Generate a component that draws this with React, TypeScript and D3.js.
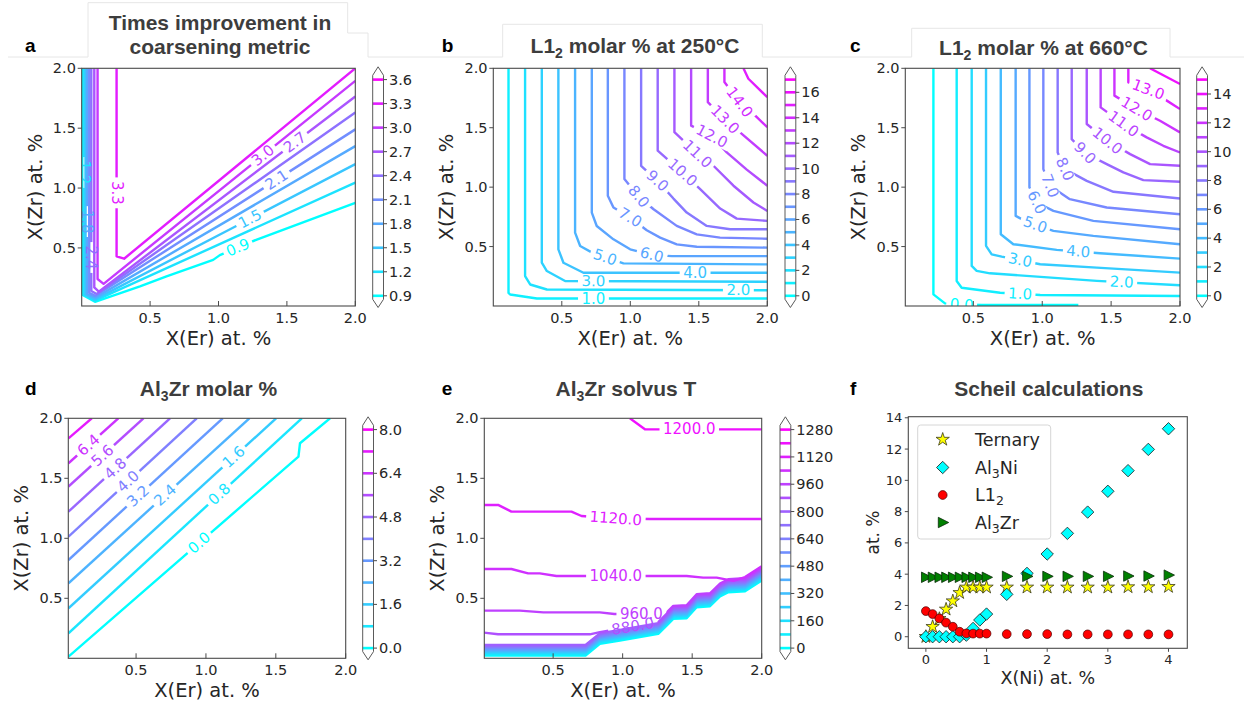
import React from "react";
import * as d3 from "d3";

type Pt = [number, number];
type Contour = [number, Pt[]];
type Label = [number, number, number];

const axisTicks = [0.5, 1.0, 1.5, 2.0];

// ---------------- panel a : times improvement ----------------
const aLevels = [0.9, 1.2, 1.5, 1.8, 2.1, 2.4, 2.7, 3.0, 3.3, 3.6];
const aBarTicks = [0.9, 1.2, 1.5, 1.8, 2.1, 2.4, 2.7, 3.0, 3.3, 3.6];
const aContours: Contour[] = [
  [0.9, [[0.004, 2.0], [0.004, 0.11], [0.097, 0.05], [0.426, 0.179], [0.62, 0.263], [0.961, 0.4], [1.01, 0.44], [1.28, 0.57], [2.0, 0.877]]],
  [1.2, [[0.015, 2.0], [0.015, 0.11], [0.097, 0.06], [2.0, 1.045]]],
  [1.5, [[0.028, 2.0], [0.028, 0.11], [0.098, 0.07], [2.0, 1.2]]],
  [1.8, [[0.04, 2.0], [0.04, 0.115], [0.1, 0.085], [2.0, 1.35]]],
  [2.1, [[0.055, 2.0], [0.055, 0.125], [0.1, 0.1], [2.0, 1.49]]],
  [2.4, [[0.07, 2.0], [0.07, 0.14], [0.11, 0.115], [2.0, 1.63]]],
  [2.7, [[0.092, 2.0], [0.092, 0.17], [0.125, 0.135], [2.0, 1.765]]],
  [3.0, [[0.116, 2.0], [0.116, 0.24], [0.16, 0.2], [2.0, 1.895]]],
  [3.3, [[0.255, 2.0], [0.255, 0.43], [0.31, 0.41], [2.0, 2.0]]],
];
const aLabels: Label[] = [
  [3.3, 0.27, 0.96], [3.0, 1.327, 1.27], [2.7, 1.546, 1.4], [2.1, 1.424, 1.07],
  [1.5, 1.23, 0.745], [0.9, 1.143, 0.5], [1.2, 0.015, 1.13], [1.8, 0.04, 0.72], [2.4, 0.07, 0.42],
];

// ---------------- panel b : L12 at 250C ----------------
const bLevels = [0, 1, 2, 3, 4, 5, 6, 7, 8, 9, 10, 11, 12, 13, 14, 15, 16, 17];
const bBarTicks = [0, 2, 4, 6, 8, 10, 12, 14, 16];
const bContours: Contour[] = [
  [1, [[0.111, 2], [0.111, 0.111], [0.123, 0.097], [0.318, 0.063], [2, 0.063]]],
  [2, [[0.232, 2], [0.232, 0.252], [0.269, 0.181], [0.391, 0.139], [2, 0.133]]],
  [3, [[0.354, 2], [0.354, 0.364], [0.391, 0.294], [0.524, 0.21], [2, 0.204]]],
  [4, [[0.475, 2], [0.475, 0.477], [0.512, 0.364], [0.658, 0.28], [2, 0.28]]],
  [5, [[0.597, 2], [0.597, 0.617], [0.634, 0.505], [0.731, 0.443], [0.95, 0.359], [2, 0.35]]],
  [6, [[0.719, 2], [0.719, 0.786], [0.755, 0.673], [0.877, 0.561], [0.999, 0.477], [1.157, 0.43], [1.303, 0.42], [2, 0.42]]],
  [7, [[0.836, 2], [0.836, 0.927], [0.877, 0.828], [0.999, 0.744], [1.12, 0.637], [1.218, 0.575], [1.339, 0.519], [1.485, 0.499], [2, 0.491]]],
  [8, [[0.957, 2], [0.957, 1.068], [1.06, 0.921], [1.17, 0.814], [1.339, 0.674], [1.485, 0.603], [1.655, 0.575], [2, 0.566]]],
  [9, [[1.079, 2], [1.079, 1.18], [1.198, 1.053], [1.315, 0.904], [1.412, 0.786], [1.558, 0.674], [1.729, 0.646], [2, 0.646]]],
  [10, [[1.2, 2], [1.2, 1.307], [1.381, 1.123], [1.51, 0.983], [1.656, 0.82], [1.777, 0.735], [2, 0.716]]],
  [11, [[1.322, 2], [1.322, 1.462], [1.49, 1.279], [1.607, 1.18], [1.753, 1.012], [1.899, 0.871], [2, 0.8]]],
  [12, [[1.444, 2], [1.444, 1.518], [1.595, 1.428], [1.704, 1.293], [1.85, 1.147], [2, 1.012]]],
  [13, [[1.566, 2], [1.566, 1.715], [1.692, 1.568], [1.801, 1.461], [2, 1.264]]],
  [14, [[1.687, 2], [1.687, 1.884], [1.797, 1.715], [1.899, 1.616], [2, 1.504]]],
  [15, [[1.826, 2], [1.862, 1.912], [2, 1.757]]],
];
const bLabels: Label[] = [
  [1, 0.731, 0.063], [2, 1.789, 0.133], [3, 0.731, 0.206], [4, 1.473, 0.28], [5, 0.816, 0.41],
  [6, 1.157, 0.43], [7, 0.999, 0.744], [8, 1.06, 0.921], [9, 1.198, 1.053], [10, 1.381, 1.123],
  [11, 1.49, 1.279], [12, 1.595, 1.428], [13, 1.692, 1.568], [14, 1.797, 1.715],
];

// ---------------- panel c : L12 at 660C ----------------
const cLevels = [0, 1, 2, 3, 4, 5, 6, 7, 8, 9, 10, 11, 12, 13, 14, 15];
const cBarTicks = [0, 2, 4, 6, 8, 10, 12, 14];
const cContours: Contour[] = [
  [0, [[0.21, 2], [0.21, 0.098], [0.294, 0.022], [0.415, 0.012], [0.561, 0.008], [1.262, 0.008]]],
  [1, [[0.379, 2], [0.379, 0.211], [0.415, 0.154], [0.694, 0.112], [0.985, 0.093], [2, 0.084]]],
  [2, [[0.488, 2], [0.488, 0.337], [0.524, 0.295], [0.621, 0.275], [1.396, 0.211], [2, 0.174]]],
  [3, [[0.592, 2], [0.592, 0.506], [0.633, 0.435], [0.706, 0.416], [0.985, 0.351], [1.396, 0.323], [2, 0.281]]],
  [4, [[0.699, 2], [0.699, 0.604], [0.79, 0.52], [1.105, 0.472], [1.42, 0.444], [2, 0.399]]],
  [5, [[0.807, 2], [0.807, 0.758], [0.888, 0.708], [1.081, 0.632], [1.371, 0.59], [2, 0.52]]],
  [6, [[0.907, 2], [0.907, 1.0], [0.96, 0.871], [1.081, 0.8], [1.371, 0.716], [2, 0.646]]],
  [7, [[1.008, 2], [1.008, 1.152], [1.056, 1.011], [1.2, 0.899], [1.468, 0.829], [2, 0.772]]],
  [8, [[1.112, 2], [1.112, 1.292], [1.165, 1.152], [1.323, 1.053], [1.517, 0.961], [2, 0.904]]],
  [9, [[1.214, 2], [1.214, 1.404], [1.31, 1.287], [1.468, 1.194], [1.589, 1.124], [1.734, 1.059], [2, 1.045]]],
  [10, [[1.323, 2], [1.323, 1.531], [1.473, 1.39], [1.638, 1.278], [1.783, 1.194], [2, 1.18]]],
  [11, [[1.424, 2], [1.424, 1.671], [1.589, 1.531], [1.758, 1.419], [1.879, 1.348], [2, 1.292]]],
  [12, [[1.524, 2], [1.524, 1.77], [1.686, 1.657], [1.855, 1.559], [2, 1.461]]],
  [13, [[1.625, 2], [1.625, 1.882], [1.77, 1.82], [1.904, 1.728], [2, 1.657]]],
  [14, [[1.782, 2], [2, 1.868]]],
];
const cLabels: Label[] = [
  [0, 0.415, 0.012], [1, 0.839, 0.105], [2, 1.577, 0.195], [3, 0.839, 0.38], [4, 1.262, 0.458],
  [5, 0.948, 0.68], [6, 0.96, 0.871], [7, 1.056, 1.011], [8, 1.165, 1.152], [9, 1.31, 1.287],
  [10, 1.473, 1.39], [11, 1.589, 1.531], [12, 1.686, 1.657], [13, 1.77, 1.82],
];

// ---------------- panel d : Al3Zr molar % ----------------
const dLevels = [0.0, 0.8, 1.6, 2.4, 3.2, 4.0, 4.8, 5.6, 6.4, 7.2, 8.0];
const dBarTicks = [0.0, 1.6, 3.2, 4.8, 6.4, 8.0];
const dContours: Contour[] = [
  [0.0, [[0.016, 0.014], [1.662, 1.681], [1.673, 1.792], [1.888, 2.0]]],
  [0.8, [[0.016, 0.208], [1.686, 2.0]]],
  [1.6, [[0.016, 0.417], [1.502, 2.0]]],
  [2.4, [[0.016, 0.625], [1.311, 2.0]]],
  [3.2, [[0.016, 0.819], [1.12, 2.0]]],
  [4.0, [[0.016, 1.014], [0.934, 2.0]]],
  [4.8, [[0.016, 1.222], [0.743, 2.0]]],
  [5.6, [[0.016, 1.431], [0.553, 2.0]]],
  [6.4, [[0.016, 1.625], [0.373, 2.0]]],
  [7.2, [[0.016, 1.833], [0.183, 2.0]]],
];
const dLabels: Label[] = [
  [0.0, 0.946, 0.97], [0.8, 1.09, 1.375], [1.6, 1.197, 1.68], [2.4, 0.708, 1.36], [3.2, 0.518, 1.347],
  [4.0, 0.433, 1.486], [4.8, 0.35, 1.583], [5.6, 0.267, 1.681], [6.4, 0.159, 1.778],
];

// ---------------- panel e : Al3Zr solvus T ----------------
const eLevels = [0, 80, 160, 240, 320, 400, 480, 560, 640, 720, 800, 880, 960, 1040, 1120, 1200, 1280];
const eBarTicks = [0, 160, 320, 480, 640, 800, 960, 1120, 1280];
const eBandTop: Pt[] = [
  [0.0, 0.111], [0.733, 0.111], [0.836, 0.208], [0.98, 0.236], [1.256, 0.292], [1.316, 0.361],
  [1.364, 0.417], [1.46, 0.422], [1.532, 0.514], [1.628, 0.522], [1.7, 0.603], [1.76, 0.639],
  [1.88, 0.647], [2.0, 0.736],
];
const eBandLevels = [0, 80, 160, 240, 320, 400, 480, 560, 640, 720, 800];
const eBandDrop = [0.088, 0.079, 0.07, 0.061, 0.053, 0.044, 0.035, 0.026, 0.018, 0.009, 0.0];
const eContours: Contour[] = [
  [880, [[0.0, 0.214], [0.104, 0.2], [0.764, 0.2], [0.836, 0.218], [0.98, 0.246], [1.256, 0.302], [1.316, 0.371], [1.364, 0.427], [1.46, 0.432], [1.532, 0.524], [1.628, 0.532], [1.7, 0.613], [1.76, 0.649], [1.88, 0.657], [2.0, 0.746]]],
  [960, [[0.0, 0.397], [0.26, 0.397], [0.43, 0.383], [0.836, 0.383], [0.94, 0.369], [1.135, 0.369], [1.25, 0.36], [1.316, 0.381], [1.364, 0.437], [1.46, 0.442], [1.532, 0.534], [1.628, 0.542], [1.7, 0.623], [1.76, 0.659], [1.88, 0.667], [2.0, 0.756]]],
  [1040, [[0.0, 0.744], [0.2, 0.744], [0.32, 0.708], [0.404, 0.708], [0.524, 0.686], [1.46, 0.686], [1.579, 0.672], [1.676, 0.672], [1.796, 0.645], [1.88, 0.677], [2.0, 0.766]]],
  [1120, [[0.0, 1.278], [0.104, 1.278], [0.2, 1.222], [0.632, 1.222], [0.704, 1.186], [0.951, 1.165], [1.196, 1.161], [2.0, 1.161]]],
  [1200, [[1.052, 2.0], [1.16, 1.908], [2.0, 1.908]]],
];
const eLabels: Label[] = [
  [1200, 1.479, 1.908], [1120, 0.951, 1.165], [1040, 0.951, 0.686], [960, 1.135, 0.369], [880, 1.076, 0.25],
];

// ---------------- panel f : Scheil ----------------
const niX = [0, 0.111, 0.222, 0.333, 0.444, 0.556, 0.667, 0.778, 0.889, 1.0, 1.333, 1.667, 2.0, 2.333, 2.667, 3.0, 3.333, 3.667, 4.0];
const ternary = [0.0, 0.64, 1.15, 1.75, 2.28, 2.81, 3.16, 3.16, 3.16, 3.16, 3.16, 3.16, 3.16, 3.16, 3.16, 3.16, 3.18, 3.18, 3.2];
const al3ni = [0, 0, 0, 0, 0, 0, 0.1, 0.53, 1.07, 1.45, 2.71, 4.05, 5.29, 6.61, 7.97, 9.3, 10.62, 11.98, 13.3];
const l12 = [1.64, 1.45, 1.17, 0.9, 0.64, 0.32, 0.21, 0.2, 0.2, 0.2, 0.17, 0.17, 0.17, 0.15, 0.15, 0.15, 0.15, 0.15, 0.15];
const al3zr = [3.8, 3.8, 3.8, 3.8, 3.8, 3.8, 3.8, 3.8, 3.8, 3.8, 3.86, 3.86, 3.86, 3.86, 3.86, 3.86, 3.88, 3.88, 3.94];
const fXTicks = [0, 1, 2, 3, 4];
const fYTicks = [0, 2, 4, 6, 8, 10, 12, 14];

// ---------------- styling ----------------
const FONT = "'DejaVu Sans', sans-serif";
const TFONT = "'Liberation Sans', Arial, sans-serif";
const TXT = "#262626";
const cool = d3.interpolateRgb("#00ffff", "#ff00ff");

function textWidth(s: string, fs: number) {
  let w = 0;
  for (const ch of s) w += ch === "." ? 0.318 : 0.636;
  return w * fs;
}

type Box = { l: number; r: number; t: number; b: number };

function ContourPanel(props: {
  id: string;
  box: Box;
  xDom: [number, number];
  yDom: [number, number];
  levels: number[];
  barTicks: number[];
  barFmt: (v: number) => string;
  barX: number;
  contours: Contour[];
  labels: Label[];
}) {
  const { id, box, xDom, yDom, levels, barTicks, barFmt, barX, contours, labels } = props;
  const x = d3.scaleLinear().domain(xDom).range([box.l, box.r]);
  const y = d3.scaleLinear().domain(yDom).range([box.b, box.t]);
  const lmin = d3.min(levels) as number;
  const lmax = d3.max(levels) as number;
  const color = (v: number) => cool((v - lmin) / (lmax - lmin));
  const line = d3.line<Pt>().x((d) => x(d[0])).y((d) => y(d[1]));
  const FSL = 15;

  const placed = labels.map(([lv, lx, ly]) => {
    const px = x(lx), py = y(ly);
    let best: any = null;
    contours.forEach(([clv, pts], ci) => {
      if (Math.abs(clv - lv) > 1e-9) return;
      for (let k = 0; k < pts.length - 1; k++) {
        const ax = x(pts[k][0]), ay = y(pts[k][1]);
        const bx = x(pts[k + 1][0]), by = y(pts[k + 1][1]);
        const dx = bx - ax, dy = by - ay;
        const L2 = dx * dx + dy * dy || 1;
        let t = ((px - ax) * dx + (py - ay) * dy) / L2;
        t = Math.max(0, Math.min(1, t));
        const qx = ax + t * dx, qy = ay + t * dy;
        const d = Math.hypot(px - qx, py - qy);
        if (!best || d < best.d) best = { d, ci, qx, qy, ang: (Math.atan2(dy, dx) * 180) / Math.PI };
      }
    });
    let ang = best.ang;
    if (ang > 90) ang -= 180;
    if (ang <= -90) ang += 180;
    const text = lv.toFixed(1);
    return { ...best, ang, text, w: textWidth(text, FSL), lv };
  });

  // colorbar geometry
  const cbW = 10.8;
  const levelTop = box.t + 11.3;
  const levelBot = box.b - 10.2;
  const cb = d3.scaleLinear().domain([lmin, lmax]).range([levelBot, levelTop]);
  const bodyTop = levelTop - 4.3, bodyBot = levelBot + 3.5;
  const apexTop = box.t - 1.5, apexBot = box.b + 1.5;
  const cx = barX + cbW / 2;
  const outline = `M${barX},${bodyTop}L${cx},${apexTop}L${barX + cbW},${bodyTop}L${barX + cbW},${bodyBot}L${cx},${apexBot}L${barX},${bodyBot}Z`;

  return (
    <g>
      <defs>
        <clipPath id={`${id}-clip`}>
          <rect x={box.l} y={box.t} width={box.r - box.l} height={box.b - box.t} />
        </clipPath>
        {contours.map((c, ci) => {
          const mine = placed.filter((p) => p.ci === ci);
          if (!mine.length) return null;
          return (
            <mask key={ci} id={`${id}-m${ci}`} maskUnits="userSpaceOnUse" x={0} y={0} width={1244} height={702}>
              <rect x={0} y={0} width={1244} height={702} fill="white" />
              {mine.map((p, k) => (
                <rect key={k} x={p.qx - (p.w + 7) / 2} y={p.qy - 6.5} width={p.w + 7} height={13} fill="black"
                  transform={`rotate(${p.ang},${p.qx},${p.qy})`} />
              ))}
            </mask>
          );
        })}
      </defs>
      <g clipPath={`url(#${id}-clip)`}>
        {contours.map(([lv, pts], ci) => {
          const has = placed.some((p) => p.ci === ci);
          return (
            <path key={ci} d={line(pts) as string} fill="none" stroke={color(lv)} strokeWidth={2.4}
              strokeLinejoin="round" mask={has ? `url(#${id}-m${ci})` : undefined} />
          );
        })}
        {placed.map((p, k) => (
          <text key={k} x={p.qx} y={p.qy} fontFamily={FONT} fontSize={FSL} fill={color(p.lv)}
            textAnchor="middle" dominantBaseline="central" transform={`rotate(${p.ang},${p.qx},${p.qy})`}>
            {p.text}
          </text>
        ))}
      </g>
      <rect x={box.l} y={box.t} width={box.r - box.l} height={box.b - box.t} fill="none" stroke="#4a4a4a" strokeWidth={1.1} />
      {axisTicks.map((t) => (
        <g key={"x" + t}>
          <line x1={x(t)} x2={x(t)} y1={box.b} y2={box.b - 5} stroke="#4a4a4a" strokeWidth={1} />
          <text x={x(t)} y={box.b + 16.5} fontFamily={FONT} fontSize={14.5} fill={TXT} textAnchor="middle">{t.toFixed(1)}</text>
        </g>
      ))}
      {axisTicks.map((t) => (
        <g key={"y" + t}>
          <line x1={box.l - 4} x2={box.l} y1={y(t)} y2={y(t)} stroke="#4a4a4a" strokeWidth={1} />
          <text x={box.l - 5.8} y={y(t)} fontFamily={FONT} fontSize={14.5} fill={TXT} textAnchor="end" dominantBaseline="central">{t.toFixed(1)}</text>
        </g>
      ))}
      <text x={(box.l + box.r) / 2} y={box.b + 38.5} fontFamily={FONT} fontSize={19.5} fill={TXT} textAnchor="middle">X(Er) at. %</text>
      <text transform={`translate(${box.l - 40},${(box.t + box.b) / 2}) rotate(-90)`} fontFamily={FONT} fontSize={19.5} fill={TXT} textAnchor="middle">X(Zr) at. %</text>
      {/* colorbar */}
      <path d={outline} fill="#fff" stroke="none" />
      {levels.map((lv) => (
        <line key={lv} x1={barX} x2={barX + cbW} y1={cb(lv)} y2={cb(lv)} stroke={color(lv)} strokeWidth={2.6} />
      ))}
      <path d={outline} fill="none" stroke="#5a5a5a" strokeWidth={1} />
      {barTicks.map((t) => (
        <g key={"cb" + t}>
          <line x1={barX + cbW} x2={barX + cbW + 3.5} y1={cb(t)} y2={cb(t)} stroke="#4a4a4a" strokeWidth={1} />
          <text x={barX + cbW + 5.5} y={cb(t)} fontFamily={FONT} fontSize={14.5} fill={TXT} dominantBaseline="central">{barFmt(t)}</text>
        </g>
      ))}
    </g>
  );
}

const starPath = d3.symbol().type(d3.symbolStar).size(55)() as string;
const diamondPath = "M0,-6.2L6.2,0L0,6.2L-6.2,0Z";
const triPath = "M-4.4,-5.2L6,0L-4.4,5.2Z";

function Marker({ kind, x, y }: { kind: string; x: number; y: number }) {
  if (kind === "star") return <path d={starPath} transform={`translate(${x},${y})`} fill="#ffff00" stroke="#3a3a1a" strokeWidth={0.8} />;
  if (kind === "diamond") return <path d={diamondPath} transform={`translate(${x},${y})`} fill="#00ffff" stroke="#1a1a1a" strokeWidth={0.8} />;
  if (kind === "circle") return <circle cx={x} cy={y} r={4.4} fill="#ff0000" stroke="#4a0000" strokeWidth={0.7} />;
  return <path d={triPath} transform={`translate(${x},${y})`} fill="#008000" stroke="#0a2a0a" strokeWidth={0.8} />;
}

function ScatterPanel() {
  const box: Box = { l: 908.3, r: 1187.3, t: 416.7, b: 648.3 };
  const x = d3.scaleLinear().domain([-0.29, 4.31]).range([box.l, box.r]);
  const y = d3.scaleLinear().domain([-0.74, 14.07]).range([box.b, box.t]);
  const series: [string, number[]][] = [["star", ternary], ["diamond", al3ni], ["circle", l12], ["tri", al3zr]];
  const legend: [string, string, string, number][] = [
    ["star", "Ternary", "", 439.5],
    ["diamond", "Al", "3|Ni", 467.5],
    ["circle", "L1", "2|", 495],
    ["tri", "Al", "3|Zr", 522.5],
  ];
  return (
    <g>
      {series.map(([kind, vals]) => (
        <g key={kind}>
          {vals.map((v, i) => <Marker key={i} kind={kind} x={x(niX[i])} y={y(v)} />)}
        </g>
      ))}
      <rect x={box.l} y={box.t} width={box.r - box.l} height={box.b - box.t} fill="none" stroke="#4a4a4a" strokeWidth={1.1} />
      {fXTicks.map((t) => (
        <g key={"fx" + t}>
          <line x1={x(t)} x2={x(t)} y1={box.b} y2={box.b + 3.5} stroke="#4a4a4a" />
          <text x={x(t)} y={box.b + 16} fontFamily={FONT} fontSize={13} fill={TXT} textAnchor="middle">{t}</text>
        </g>
      ))}
      {fYTicks.map((t) => (
        <g key={"fy" + t}>
          <line x1={box.l - 3.5} x2={box.l} y1={y(t)} y2={y(t)} stroke="#4a4a4a" />
          <text x={box.l - 6} y={y(t)} fontFamily={FONT} fontSize={13} fill={TXT} textAnchor="end" dominantBaseline="central">{t}</text>
        </g>
      ))}
      <text x={(box.l + box.r) / 2} y={683.5} fontFamily={FONT} fontSize={17.5} fill={TXT} textAnchor="middle">X(Ni) at. %</text>
      <text transform={`translate(${878.5},${(box.t + box.b) / 2}) rotate(-90)`} fontFamily={FONT} fontSize={17} fill={TXT} textAnchor="middle">at. %</text>
      <rect x={917.7} y={425} width={133} height={114} rx={3} fill="#fff" stroke="#d6d6d6" strokeWidth={1} />
      {legend.map(([kind, main, rest, cy]) => {
        const [sub, tail] = rest.split("|");
        return (
          <g key={kind}>
            <Marker kind={kind} x={942.7} y={cy} />
            <text x={975} y={cy + 6.3} fontFamily={FONT} fontSize={17.5} fill={TXT}>
              {main}
              {sub ? <tspan fontSize={12.5} dy={4}>{sub}</tspan> : null}
              {sub ? <tspan dy={-4}>{tail}</tspan> : null}
            </text>
          </g>
        );
      })}
    </g>
  );
}

export default function App() {
  const eAll: Contour[] = [
    ...eBandLevels.map((lv, i) => [lv, eBandTop.map((p) => [p[0], p[1] - eBandDrop[i]] as Pt)] as Contour),
    ...eContours,
  ];
  const titleStyle = { fontFamily: TFONT, fontWeight: 700, fontSize: 21, fill: "#3d3d3d" } as any;
  const letterStyle = { fontFamily: TFONT, fontWeight: 700, fontSize: 19, fill: "#000" } as any;
  return (
    <svg width={1244} height={702} style={{ position: "absolute", left: 0, top: 0 }}>
      <rect x={0} y={0} width={1244} height={702} fill="#fff" />
      {/* faint title frames */}
      <g fill="none" stroke="#e6e6e6" strokeWidth={1}>
        <path d="M8,57H88V2.7H347.7V33H368V57H502.7V24.3H762.3V57H911.7V28.3H1170V57H1244" />
      </g>
      {/* letters */}
      <text x={25} y={51.5} style={letterStyle}>a</text>
      <text x={441.7} y={51.5} style={letterStyle}>b</text>
      <text x={850} y={51.5} style={letterStyle}>c</text>
      <text x={25} y={395} style={letterStyle}>d</text>
      <text x={441.7} y={395} style={letterStyle}>e</text>
      <text x={850} y={395} style={letterStyle}>f</text>
      {/* titles */}
      <text x={220} y={29.5} textAnchor="middle" style={titleStyle}>Times improvement in</text>
      <text x={220} y={53.5} textAnchor="middle" style={titleStyle}>coarsening metric</text>
      <text x={635} y={52.5} textAnchor="middle" style={titleStyle}>
        L1<tspan fontSize={14} dy={5}>2</tspan><tspan dy={-5}>{" molar % at 250°C"}</tspan>
      </text>
      <text x={1043.5} y={54.5} textAnchor="middle" style={titleStyle}>
        L1<tspan fontSize={14} dy={5}>2</tspan><tspan dy={-5}>{" molar % at 660°C"}</tspan>
      </text>
      <text x={208.5} y={396} textAnchor="middle" style={titleStyle}>
        Al<tspan fontSize={14} dy={5}>3</tspan><tspan dy={-5}>{"Zr molar %"}</tspan>
      </text>
      <text x={626} y={396} textAnchor="middle" style={titleStyle}>
        Al<tspan fontSize={14} dy={5}>3</tspan><tspan dy={-5}>{"Zr solvus T"}</tspan>
      </text>
      <text x={1048.8} y={396} textAnchor="middle" style={titleStyle}>Scheil calculations</text>

      <ContourPanel id="pa" box={{ l: 81.7, r: 355.3, t: 68.3, b: 306 }} xDom={[0, 2]} yDom={[0.015, 2]}
        levels={aLevels} barTicks={aBarTicks} barFmt={(v) => v.toFixed(1)} barX={372.7}
        contours={aContours} labels={aLabels} />
      <ContourPanel id="pb" box={{ l: 493.3, r: 767.3, t: 68.3, b: 306 }} xDom={[0, 2]} yDom={[0, 2]}
        levels={bLevels} barTicks={bBarTicks} barFmt={(v) => String(v)} barX={785}
        contours={bContours} labels={bLabels} />
      <ContourPanel id="pc" box={{ l: 905.3, r: 1180, t: 68.3, b: 306 }} xDom={[0.006, 2]} yDom={[0, 2]}
        levels={cLevels} barTicks={cBarTicks} barFmt={(v) => String(v)} barX={1196.7}
        contours={cContours} labels={cLabels} />
      <ContourPanel id="pd" box={{ l: 68.3, r: 345.7, t: 418.3, b: 658.3 }} xDom={[0.015, 2]} yDom={[0, 2]}
        levels={dLevels} barTicks={dBarTicks} barFmt={(v) => v.toFixed(1)} barX={362.7}
        contours={dContours} labels={dLabels} />
      <ContourPanel id="pe" box={{ l: 484.3, r: 761.7, t: 418.3, b: 658.3 }} xDom={[0.005, 2]} yDom={[0, 2]}
        levels={eLevels} barTicks={eBarTicks} barFmt={(v) => String(v)} barX={780}
        contours={eAll} labels={eLabels} />
      <ScatterPanel />
    </svg>
  );
}
